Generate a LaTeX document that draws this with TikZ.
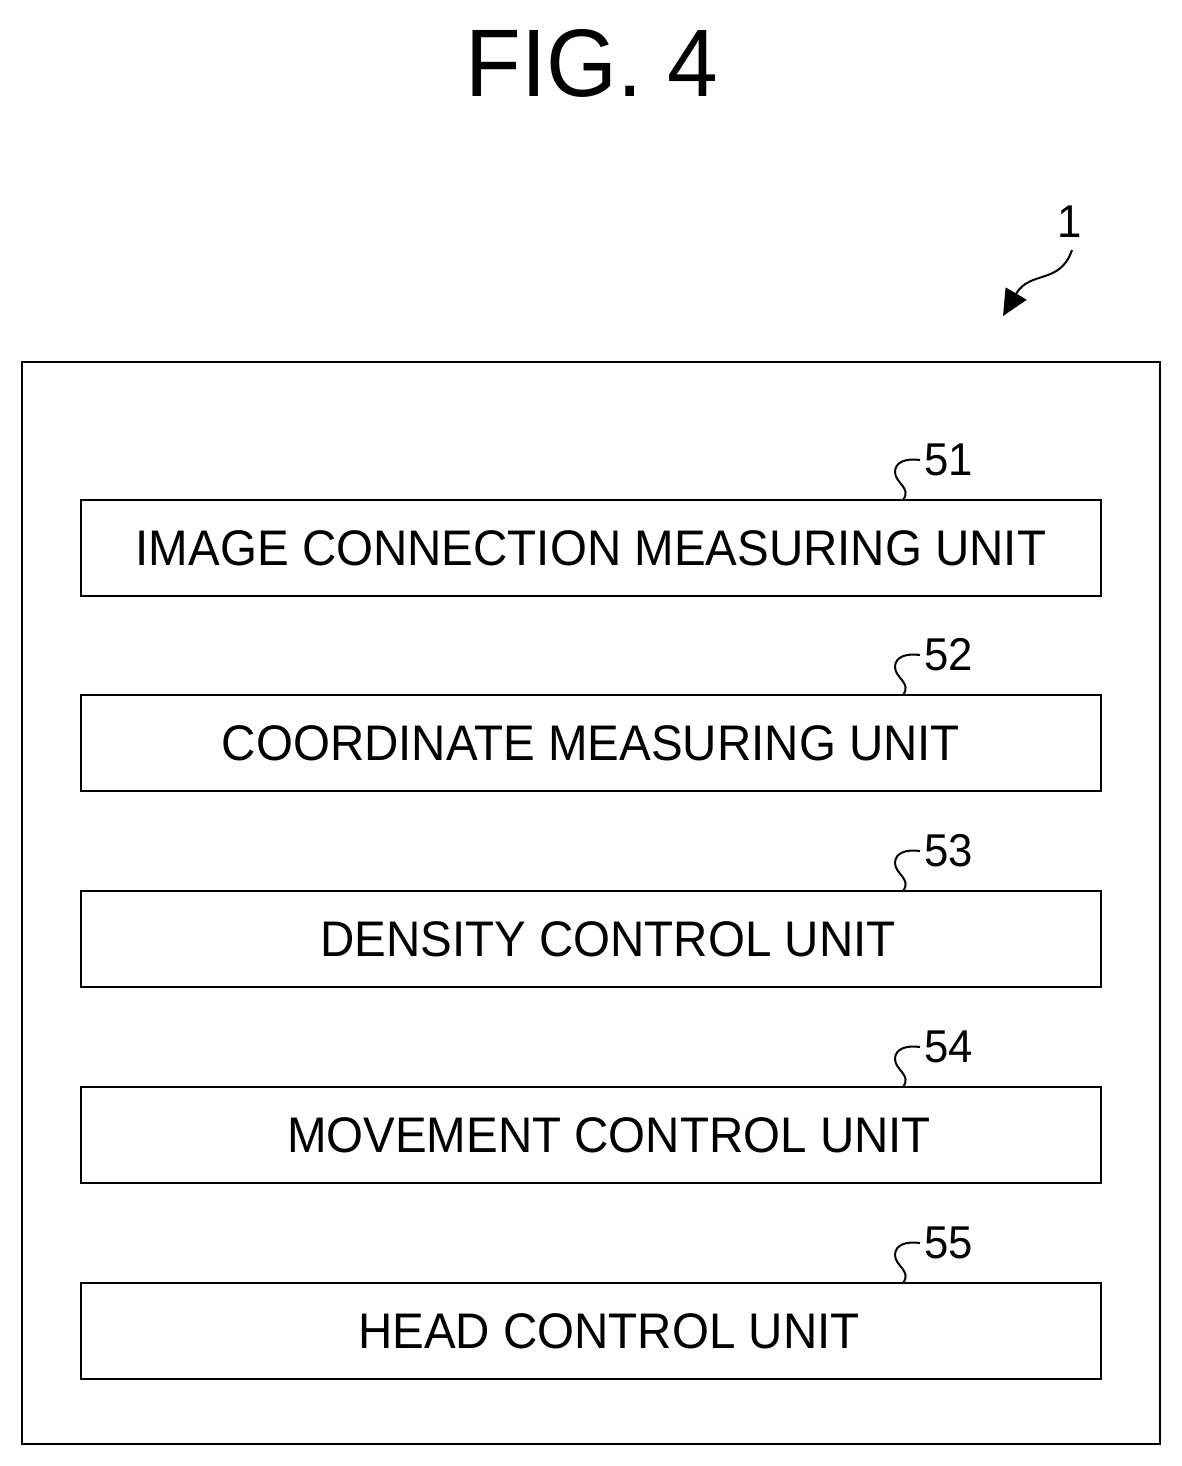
\documentclass[tikz,border=0pt]{standalone}
\usepackage{fontspec}
\setmainfont{Liberation Sans}
\newfontfamily\gfont[FakeStretch=0.95]{Liberation Sans}
\usetikzlibrary{arrows.meta}
\begin{document}
\begin{tikzpicture}[x=1pt,y=-1pt,
  unit/.style={draw,line width=2.8pt,minimum width=1020pt,minimum height=96pt,inner sep=0pt,font=\gfont\fontsize{50}{50}\selectfont},
  lab/.style={font=\gfont\fontsize{46}{46}\selectfont,inner sep=0pt},
  sq/.style={line width=2pt}]
\useasboundingbox (0,0) rectangle (1182,1466);
\node[font=\gfont\fontsize{96}{96}\selectfont,inner sep=0pt] (title) at (592,63) {FIG. 4};
\node[draw,line width=2.8pt,minimum width=1138pt,minimum height=1082pt,inner sep=0pt] (outer) at (591,903) {};
\node[lab] (l1) at (1070,222) {1};
\coordinate (t1) at (1003,316);
\draw[line width=2pt,-{Triangle[length=26pt,width=24pt]}] (1072,250) .. controls (1060,285) and (1030,270) .. (t1);
\foreach \i/\y/\t/\dx in {51/548/IMAGE CONNECTION MEASURING UNIT/0,52/743/COORDINATE MEASURING UNIT/0,53/939/DENSITY CONTROL UNIT/34,54/1135/MOVEMENT CONTROL UNIT/36,55/1331/HEAD CONTROL UNIT/36}{
  \node[unit] (u\i) at (591,\y) {\hspace*{\dx pt}\t};
  \node[lab,anchor=west] (n\i) at (924,\y-88) {\i};
  \draw[sq] (903,\y-48) .. controls (912,\y-60) and (895,\y-65) .. (895,\y-76) .. controls (895,\y-86) and (906,\y-90) .. ([xshift=-4pt]n\i.west);
}
\end{tikzpicture}
\end{document}
